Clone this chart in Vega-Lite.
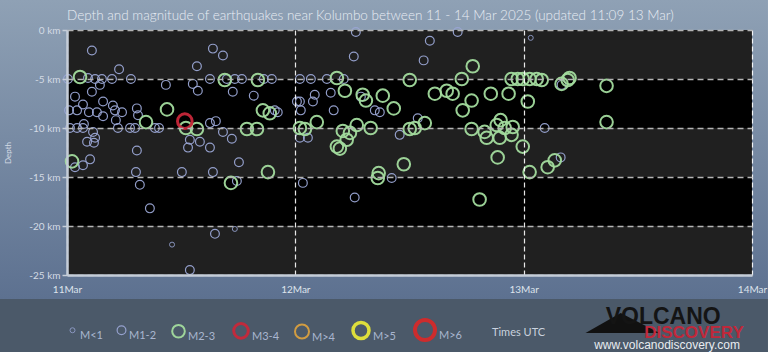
{
  "$schema": "https://vega.github.io/schema/vega-lite/v6.json",
  "width": 685,
  "height": 245,
  "autosize": {"type": "none"},
  "padding": {"left": 67, "top": 30, "right": 16, "bottom": 81},
  "background": "#ffffff",
  "title": {"text": "Depth and magnitude of earthquakes near Kolumbo between 11 - 14 Mar 2025 (updated 11:09 13 Mar)", "anchor": "start", "frame": "group", "offset": 1, "dy": 24, "zindex": 2, "font": "Lato", "fontSize": 13.5, "fontWeight": 300, "color": "#e8edf3"},
  "config": {
    "view": {"stroke": null}
  },
  "datasets": {
    "one": [{}],
    "bands": [{"top": -5, "bottom": -10}, {"top": -15, "bottom": -20}],
    "quakes": [
      {"day": 11.109, "depth": -2.1, "mag": "M1-2"},
      {"day": 11.228, "depth": -4.0, "mag": "M1-2"},
      {"day": 11.004, "depth": -5.0, "mag": "M1-2"},
      {"day": 11.092, "depth": -4.9, "mag": "M1-2"},
      {"day": 11.123, "depth": -5.0, "mag": "M1-2"},
      {"day": 11.153, "depth": -5.0, "mag": "M1-2"},
      {"day": 11.197, "depth": -5.0, "mag": "M1-2"},
      {"day": 11.280, "depth": -5.0, "mag": "M1-2"},
      {"day": 11.433, "depth": -5.6, "mag": "M1-2"},
      {"day": 11.144, "depth": -5.6, "mag": "M1-2"},
      {"day": 11.109, "depth": -6.3, "mag": "M1-2"},
      {"day": 11.035, "depth": -6.8, "mag": "M1-2"},
      {"day": 11.070, "depth": -7.6, "mag": "M1-2"},
      {"day": 11.158, "depth": -7.3, "mag": "M1-2"},
      {"day": 11.201, "depth": -7.7, "mag": "M1-2"},
      {"day": 11.009, "depth": -8.2, "mag": "M1-2"},
      {"day": 11.044, "depth": -8.2, "mag": "M1-2"},
      {"day": 11.096, "depth": -8.4, "mag": "M1-2"},
      {"day": 11.131, "depth": -8.4, "mag": "M1-2"},
      {"day": 11.158, "depth": -8.8, "mag": "M1-2"},
      {"day": 11.210, "depth": -8.2, "mag": "M1-2"},
      {"day": 11.241, "depth": -8.4, "mag": "M1-2"},
      {"day": 11.306, "depth": -8.0, "mag": "M1-2"},
      {"day": 11.311, "depth": -8.7, "mag": "M1-2"},
      {"day": 11.214, "depth": -9.2, "mag": "M1-2"},
      {"day": 11.074, "depth": -9.6, "mag": "M1-2"},
      {"day": 11.013, "depth": -10.0, "mag": "M1-2"},
      {"day": 11.044, "depth": -10.0, "mag": "M1-2"},
      {"day": 11.070, "depth": -10.0, "mag": "M1-2"},
      {"day": 11.114, "depth": -10.4, "mag": "M1-2"},
      {"day": 11.223, "depth": -10.0, "mag": "M1-2"},
      {"day": 11.276, "depth": -10.0, "mag": "M1-2"},
      {"day": 11.298, "depth": -10.0, "mag": "M1-2"},
      {"day": 11.385, "depth": -10.0, "mag": "M1-2"},
      {"day": 11.403, "depth": -10.0, "mag": "M1-2"},
      {"day": 11.088, "depth": -11.4, "mag": "M1-2"},
      {"day": 11.123, "depth": -11.0, "mag": "M1-2"},
      {"day": 11.118, "depth": -11.5, "mag": "M1-2"},
      {"day": 11.101, "depth": -13.2, "mag": "M1-2"},
      {"day": 11.306, "depth": -12.3, "mag": "M1-2"},
      {"day": 11.035, "depth": -14.0, "mag": "M1-2"},
      {"day": 11.070, "depth": -13.8, "mag": "M1-2"},
      {"day": 11.302, "depth": -14.5, "mag": "M1-2"},
      {"day": 11.639, "depth": -1.9, "mag": "M1-2"},
      {"day": 11.683, "depth": -2.6, "mag": "M1-2"},
      {"day": 11.569, "depth": -3.7, "mag": "M1-2"},
      {"day": 11.551, "depth": -5.5, "mag": "M1-2"},
      {"day": 11.573, "depth": -6.2, "mag": "M1-2"},
      {"day": 11.626, "depth": -5.0, "mag": "M1-2"},
      {"day": 11.700, "depth": -5.0, "mag": "M1-2"},
      {"day": 11.735, "depth": -5.0, "mag": "M1-2"},
      {"day": 11.766, "depth": -5.0, "mag": "M1-2"},
      {"day": 11.726, "depth": -6.3, "mag": "M1-2"},
      {"day": 11.862, "depth": -5.0, "mag": "M1-2"},
      {"day": 11.897, "depth": -5.0, "mag": "M1-2"},
      {"day": 11.818, "depth": -6.7, "mag": "M1-2"},
      {"day": 11.910, "depth": -8.2, "mag": "M1-2"},
      {"day": 11.923, "depth": -8.4, "mag": "M1-2"},
      {"day": 11.626, "depth": -9.5, "mag": "M1-2"},
      {"day": 11.652, "depth": -9.3, "mag": "M1-2"},
      {"day": 11.683, "depth": -10.4, "mag": "M1-2"},
      {"day": 11.722, "depth": -11.1, "mag": "M1-2"},
      {"day": 11.538, "depth": -11.2, "mag": "M1-2"},
      {"day": 11.582, "depth": -11.4, "mag": "M1-2"},
      {"day": 11.530, "depth": -12.0, "mag": "M1-2"},
      {"day": 11.626, "depth": -12.0, "mag": "M1-2"},
      {"day": 11.753, "depth": -13.5, "mag": "M1-2"},
      {"day": 11.503, "depth": -14.5, "mag": "M1-2"},
      {"day": 11.639, "depth": -14.5, "mag": "M1-2"},
      {"day": 12.007, "depth": -7.3, "mag": "M1-2"},
      {"day": 11.319, "depth": -15.8, "mag": "M1-2"},
      {"day": 11.363, "depth": -18.2, "mag": "M1-2"},
      {"day": 11.744, "depth": -15.4, "mag": "M1-2"},
      {"day": 12.033, "depth": -15.6, "mag": "M1-2"},
      {"day": 11.648, "depth": -20.8, "mag": "M1-2"},
      {"day": 11.538, "depth": -24.5, "mag": "M1-2"},
      {"day": 12.260, "depth": -17.1, "mag": "M1-2"},
      {"day": 12.422, "depth": -15.1, "mag": "M1-2"},
      {"day": 13.162, "depth": -13.0, "mag": "M1-2"},
      {"day": 12.265, "depth": -0.2, "mag": "M1-2"},
      {"day": 12.256, "depth": -2.7, "mag": "M1-2"},
      {"day": 12.020, "depth": -5.0, "mag": "M1-2"},
      {"day": 12.068, "depth": -5.0, "mag": "M1-2"},
      {"day": 12.138, "depth": -5.0, "mag": "M1-2"},
      {"day": 12.212, "depth": -5.0, "mag": "M1-2"},
      {"day": 12.085, "depth": -6.6, "mag": "M1-2"},
      {"day": 12.155, "depth": -6.4, "mag": "M1-2"},
      {"day": 12.020, "depth": -7.3, "mag": "M1-2"},
      {"day": 12.077, "depth": -7.3, "mag": "M1-2"},
      {"day": 12.024, "depth": -8.2, "mag": "M1-2"},
      {"day": 12.168, "depth": -8.2, "mag": "M1-2"},
      {"day": 12.287, "depth": -6.8, "mag": "M1-2"},
      {"day": 12.348, "depth": -8.2, "mag": "M1-2"},
      {"day": 12.370, "depth": -8.4, "mag": "M1-2"},
      {"day": 12.055, "depth": -11.0, "mag": "M1-2"},
      {"day": 12.020, "depth": -11.0, "mag": "M1-2"},
      {"day": 12.457, "depth": -10.7, "mag": "M1-2"},
      {"day": 12.536, "depth": -9.0, "mag": "M1-2"},
      {"day": 12.711, "depth": -0.2, "mag": "M1-2"},
      {"day": 12.589, "depth": -1.1, "mag": "M1-2"},
      {"day": 12.562, "depth": -3.1, "mag": "M1-2"},
      {"day": 13.166, "depth": -5.6, "mag": "M1-2"},
      {"day": 13.092, "depth": -10.0, "mag": "M1-2"},
      {"day": 13.031, "depth": -0.8, "mag": "M<1"},
      {"day": 11.735, "depth": -20.3, "mag": "M<1"},
      {"day": 11.460, "depth": -21.9, "mag": "M<1"},
      {"day": 11.057, "depth": -4.8, "mag": "M2-3"},
      {"day": 11.438, "depth": -8.1, "mag": "M2-3"},
      {"day": 11.346, "depth": -9.4, "mag": "M2-3"},
      {"day": 11.022, "depth": -13.4, "mag": "M2-3"},
      {"day": 11.691, "depth": -5.1, "mag": "M2-3"},
      {"day": 11.836, "depth": -5.1, "mag": "M2-3"},
      {"day": 11.858, "depth": -8.2, "mag": "M2-3"},
      {"day": 11.888, "depth": -8.5, "mag": "M2-3"},
      {"day": 11.521, "depth": -10.0, "mag": "M2-3"},
      {"day": 11.569, "depth": -10.1, "mag": "M2-3"},
      {"day": 11.788, "depth": -10.1, "mag": "M2-3"},
      {"day": 11.832, "depth": -10.1, "mag": "M2-3"},
      {"day": 11.880, "depth": -14.5, "mag": "M2-3"},
      {"day": 11.718, "depth": -15.6, "mag": "M2-3"},
      {"day": 12.182, "depth": -4.9, "mag": "M2-3"},
      {"day": 12.217, "depth": -6.2, "mag": "M2-3"},
      {"day": 12.501, "depth": -5.1, "mag": "M2-3"},
      {"day": 12.295, "depth": -6.6, "mag": "M2-3"},
      {"day": 12.309, "depth": -7.2, "mag": "M2-3"},
      {"day": 12.383, "depth": -6.7, "mag": "M2-3"},
      {"day": 12.431, "depth": -8.0, "mag": "M2-3"},
      {"day": 12.094, "depth": -9.4, "mag": "M2-3"},
      {"day": 12.020, "depth": -10.0, "mag": "M2-3"},
      {"day": 12.042, "depth": -10.1, "mag": "M2-3"},
      {"day": 12.208, "depth": -10.3, "mag": "M2-3"},
      {"day": 12.239, "depth": -10.5, "mag": "M2-3"},
      {"day": 12.269, "depth": -9.7, "mag": "M2-3"},
      {"day": 12.330, "depth": -10.0, "mag": "M2-3"},
      {"day": 12.225, "depth": -11.2, "mag": "M2-3"},
      {"day": 12.182, "depth": -11.9, "mag": "M2-3"},
      {"day": 12.195, "depth": -12.1, "mag": "M2-3"},
      {"day": 12.501, "depth": -10.1, "mag": "M2-3"},
      {"day": 12.475, "depth": -13.7, "mag": "M2-3"},
      {"day": 12.365, "depth": -14.6, "mag": "M2-3"},
      {"day": 12.361, "depth": -15.1, "mag": "M2-3"},
      {"day": 12.777, "depth": -3.7, "mag": "M2-3"},
      {"day": 12.729, "depth": -5.0, "mag": "M2-3"},
      {"day": 12.611, "depth": -6.5, "mag": "M2-3"},
      {"day": 12.663, "depth": -6.2, "mag": "M2-3"},
      {"day": 12.689, "depth": -6.5, "mag": "M2-3"},
      {"day": 12.772, "depth": -7.2, "mag": "M2-3"},
      {"day": 12.733, "depth": -8.2, "mag": "M2-3"},
      {"day": 12.856, "depth": -6.5, "mag": "M2-3"},
      {"day": 12.934, "depth": -6.5, "mag": "M2-3"},
      {"day": 12.947, "depth": -5.0, "mag": "M2-3"},
      {"day": 12.974, "depth": -5.0, "mag": "M2-3"},
      {"day": 12.996, "depth": -5.0, "mag": "M2-3"},
      {"day": 13.026, "depth": -5.0, "mag": "M2-3"},
      {"day": 13.057, "depth": -5.0, "mag": "M2-3"},
      {"day": 13.018, "depth": -7.3, "mag": "M2-3"},
      {"day": 12.567, "depth": -9.5, "mag": "M2-3"},
      {"day": 12.523, "depth": -10.0, "mag": "M2-3"},
      {"day": 12.772, "depth": -10.1, "mag": "M2-3"},
      {"day": 12.829, "depth": -10.4, "mag": "M2-3"},
      {"day": 12.838, "depth": -11.0, "mag": "M2-3"},
      {"day": 12.882, "depth": -9.7, "mag": "M2-3"},
      {"day": 12.899, "depth": -9.2, "mag": "M2-3"},
      {"day": 12.917, "depth": -10.0, "mag": "M2-3"},
      {"day": 12.952, "depth": -9.9, "mag": "M2-3"},
      {"day": 12.947, "depth": -10.7, "mag": "M2-3"},
      {"day": 12.895, "depth": -11.0, "mag": "M2-3"},
      {"day": 12.996, "depth": -11.9, "mag": "M2-3"},
      {"day": 12.886, "depth": -13.0, "mag": "M2-3"},
      {"day": 13.026, "depth": -14.5, "mag": "M2-3"},
      {"day": 13.079, "depth": -5.1, "mag": "M2-3"},
      {"day": 13.166, "depth": -5.5, "mag": "M2-3"},
      {"day": 13.193, "depth": -5.1, "mag": "M2-3"},
      {"day": 13.201, "depth": -4.9, "mag": "M2-3"},
      {"day": 13.363, "depth": -5.7, "mag": "M2-3"},
      {"day": 13.363, "depth": -9.4, "mag": "M2-3"},
      {"day": 13.136, "depth": -13.3, "mag": "M2-3"},
      {"day": 13.105, "depth": -14.0, "mag": "M2-3"},
      {"day": 12.807, "depth": -17.3, "mag": "M2-3"},
      {"day": 11.516, "depth": -9.3, "mag": "M3-4"}
    ]
  },
  "layer": [
    {
      "data": {"name": "one"},
      "mark": {"type": "rect", "clip": false, "fill": {"gradient": "linear", "x1": 0, "y1": 0, "x2": 0, "y2": 1, "stops": [{"offset": 0, "color": "#8fa1b5"}, {"offset": 1, "color": "#5d7190"}]}},
      "encoding": {"x": {"datum": 10.7}, "x2": {"datum": 14.07}, "y": {"datum": 3.1}, "y2": {"datum": -27.45}}
    },
    {
      "data": {"name": "one"},
      "mark": {"type": "rect", "clip": false, "fill": "#4b5969"},
      "encoding": {"x": {"datum": 10.7}, "x2": {"datum": 14.07}, "y": {"datum": -27.45}, "y2": {"datum": -32.86}}
    },
    {
      "data": {"name": "one"},
      "mark": {"type": "rect", "fill": "#202020"},
      "encoding": {"x": {"datum": 11}, "x2": {"datum": 14}, "y": {"datum": 0}, "y2": {"datum": -25}}
    },
    {
      "data": {"name": "bands"},
      "mark": {"type": "rect", "fill": "#000000"},
      "encoding": {"x": {"datum": 11}, "x2": {"datum": 14}, "y": {"field": "top", "type": "quantitative"}, "y2": {"field": "bottom"}}
    },
    {
      "data": {"name": "quakes"},
      "mark": {"type": "point", "filled": false, "shape": "circle", "opacity": 0.95},
      "encoding": {
        "x": {"field": "day", "type": "quantitative", "scale": {"domain": [11, 14], "nice": false, "zero": false},
          "axis": {"zindex": 1, "values": [11, 12, 13, 14], "labelExpr": "datum.value + 'Mar'", "title": null, "grid": true, "gridColor": "#ffffff", "gridDash": [5, 3], "gridWidth": 1.2, "gridOpacity": 0.9, "ticks": false, "labelPadding": 9, "labelColor": "#dde3ec", "labelFontSize": 10, "labelFont": "Lato", "labelFlush": false, "domainColor": "#c5cdd8", "domainWidth": 2.5}},
        "y": {"field": "depth", "type": "quantitative", "scale": {"domain": [-25, 0], "nice": false, "zero": false},
          "axis": {"zindex": 1, "values": [0, -5, -10, -15, -20, -25], "labelExpr": "datum.value + ' km'", "title": "Depth", "grid": true, "gridColor": "#b4b4b4", "gridDash": [6, 4], "gridWidth": 1.5, "tickColor": "#c5cdd8", "tickSize": 5, "tickWidth": 1.5, "labelPadding": 2, "labelColor": "#d4dbe5", "labelFontSize": 10, "labelFont": "Lato", "titleFont": "Lato", "titleFontSize": 8, "titleColor": "#d4dbe5", "titleFontWeight": "normal", "titlePadding": 16, "domainColor": "#c5cdd8", "domainWidth": 2.5}},
        "color": {"field": "mag", "type": "nominal",
          "scale": {"domain": ["M<1", "M1-2", "M2-3", "M3-4", "M>4", "M>5", "M>6"], "range": ["#8f9bc6", "#9aa6d4", "#a3dc9e", "#c8283a", "#d9a040", "#e6e63a", "#d42a2a"]},
          "legend": {"title": "Times UTC", "orient": "bottom", "direction": "horizontal", "offset": 24, "titleOrient": "right", "titlePadding": 30, "titleFont": "Lato", "titleFontSize": 11, "titleFontWeight": "normal", "titleColor": "#c9d2de", "labelFont": "Lato", "labelFontSize": 11, "labelColor": "#a9b6cf", "labelBaseline": "top", "labelOffset": 2, "columnPadding": 11, "symbolType": "circle", "zindex": 1}},
        "size": {"field": "mag", "type": "ordinal",
          "scale": {"type": "ordinal", "domain": ["M<1", "M1-2", "M2-3", "M3-4", "M>4", "M>5", "M>6"], "range": [25, 77, 159, 213, 196, 256, 400]},
          "legend": {"title": "Times UTC"}},
        "strokeWidth": {"field": "mag", "type": "ordinal",
          "scale": {"type": "ordinal", "domain": ["M<1", "M1-2", "M2-3", "M3-4", "M>4", "M>5", "M>6"], "range": [1, 1.2, 2, 3, 2, 3.5, 4]},
          "legend": {"title": "Times UTC"}}
      }
    },
    {
      "data": {"name": "one"},
      "mark": {"type": "point", "clip": false, "filled": true, "fill": "#111111", "stroke": null, "opacity": 1, "shape": "M-1,0.24L-0.05,-0.3L1,0.24Z", "size": 5476},
      "encoding": {"x": {"datum": 13.433}, "y": {"datum": -30.0}}
    },
    {
      "data": {"name": "one"},
      "mark": {"type": "text", "clip": false, "text": "VOLCANO", "font": "Liberation Sans", "fontWeight": "bold", "fontSize": 23, "color": "#141414", "align": "center", "baseline": "alphabetic"},
      "encoding": {"x": {"datum": 13.611}, "y": {"datum": -30.0}}
    },
    {
      "data": {"name": "one"},
      "mark": {"type": "text", "clip": false, "text": "DISCOVERY", "font": "Liberation Sans", "fontWeight": "bold", "fontSize": 17, "color": "#c0283a", "align": "center", "baseline": "alphabetic"},
      "encoding": {"x": {"datum": 13.746}, "y": {"datum": -31.45}}
    },
    {
      "data": {"name": "one"},
      "mark": {"type": "text", "clip": false, "text": "www.volcanodiscovery.com", "font": "Liberation Sans", "fontSize": 12, "color": "#e8ecf0", "align": "center", "baseline": "alphabetic"},
      "encoding": {"x": {"datum": 13.628}, "y": {"datum": -32.6}}
    }
  ]
}
